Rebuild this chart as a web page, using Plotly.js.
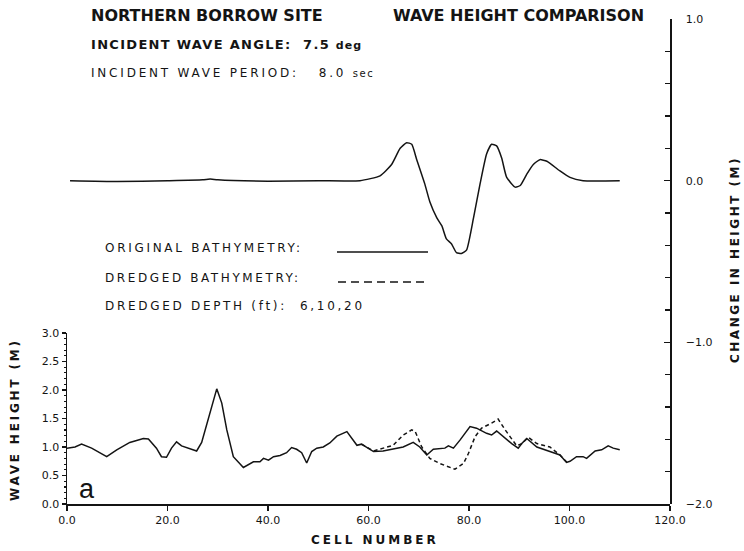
<!DOCTYPE html>
<html>
<head>
<meta charset="utf-8">
<script src="https://cdn.plot.ly/plotly-3.0.1.min.js"></script>
<style>html,body{margin:0;padding:0;background:#fff;}#chart{width:744px;height:551px;}</style>
</head>
<body>
<div id="chart"></div>
<script>
// ---- data ----
const xTickVals = [0, 20, 40, 60, 80, 100, 120];
const xTickText = ['0.0', '20.0', '40.0', '60.0', '80.0', '100.0', '120.0'];

// Wave height, original bathymetry (solid)
const cellsOriginal = [0, 1.6, 2.9, 4.9, 7.9, 9.9, 12.5, 13.9, 15.2, 16.2, 17.8, 18.8, 19.8, 20.8, 21.8, 22.8, 24.1, 25.8, 26.8, 28.1, 29.8, 30.8, 31.8, 33.1, 35.1, 37.1, 38.4, 39.1, 40.1, 41.1, 42.4, 43.7, 44.7, 45.7, 46.7, 47.7, 48.7, 49.7, 51.0, 52.3, 53.7, 55.7, 57.7, 58.6, 61.0, 62.9, 65.6, 66.9, 68.9, 70.2, 71.6, 72.9, 75.2, 75.9, 76.9, 78.2, 80.2, 81.5, 83.5, 84.5, 85.5, 86.8, 88.5, 89.8, 90.5, 91.5, 93.5, 96.1, 98.1, 99.4, 100.1, 101.4, 102.7, 103.4, 105.1, 106.4, 107.7, 108.7, 110];
const heightOriginal = [0.98, 1.0, 1.05, 0.98, 0.83, 0.95, 1.08, 1.12, 1.15, 1.14, 0.98, 0.83, 0.82, 0.98, 1.09, 1.02, 0.98, 0.93, 1.08, 1.47, 2.02, 1.77, 1.30, 0.83, 0.64, 0.74, 0.74, 0.80, 0.77, 0.83, 0.85, 0.90, 0.99, 0.96, 0.90, 0.72, 0.92, 0.98, 1.0, 1.07, 1.19, 1.27, 1.03, 1.05, 0.92, 0.93, 0.98, 1.0, 1.08, 1.0, 0.86, 0.96, 0.98, 1.02, 0.98, 1.12, 1.36, 1.33, 1.24, 1.21, 1.28, 1.18, 1.06, 0.98, 1.06, 1.15, 1.0, 0.92, 0.86, 0.73, 0.75, 0.83, 0.83, 0.80, 0.93, 0.95, 1.02, 0.98, 0.95];

// Wave height, dredged bathymetry (dashed, where it departs from the original)
const cellsDredged = [58.6, 61.0, 64.9, 66.9, 68.6, 69.3, 70.6, 72.2, 74.2, 75.9, 77.2, 78.9, 79.9, 81.2, 82.5, 84.5, 85.8, 87.2, 88.5, 89.5, 90.5, 91.8, 93.5, 96.1, 98.1, 99.4, 100.1];
const heightDredged = [1.05, 0.93, 1.03, 1.21, 1.30, 1.27, 1.0, 0.80, 0.71, 0.65, 0.61, 0.71, 0.89, 1.18, 1.33, 1.42, 1.49, 1.30, 1.15, 1.02, 1.06, 1.17, 1.06, 1.0, 0.86, 0.74, 0.75];

// Change in height (right axis)
const cellsChange = [0.6, 10, 20, 27, 28.5, 30, 40, 50, 58.3, 62.3, 64.6, 66.3, 67.6, 68.6, 69.6, 71.2, 72.2, 73.6, 74.6, 75.5, 76.5, 77.5, 78.5, 79.5, 80.9, 82.2, 83.5, 84.5, 85.5, 86.5, 87.5, 89.2, 90.2, 91.5, 92.8, 94.1, 95.5, 98.1, 100.1, 102.7, 110];
const heightChange = [0, -0.005, 0, 0.005, 0.01, 0.005, -0.003, 0, 0, 0.03, 0.10, 0.20, 0.235, 0.225, 0.13, -0.02, -0.13, -0.23, -0.28, -0.36, -0.39, -0.445, -0.45, -0.43, -0.23, -0.02, 0.165, 0.225, 0.215, 0.14, 0.02, -0.04, -0.03, 0.04, 0.10, 0.13, 0.12, 0.06, 0.02, 0, 0];

// ---- layout helpers (pixel -> paper) ----
const W = 744, H = 551, L = 67, R = 74, T = 19, B = 47;
const PW = W - L - R, PH = H - T - B;
const px = x => (x - L) / PW;
const py = y => (H - B - y) / PH;

const FONT = 'DejaVu Sans, Arial, sans-serif';
const ink = '#141414';

const traces = [
  { x: cellsDredged, y: heightDredged, xaxis: 'x', yaxis: 'y', mode: 'lines',
    line: { color: ink, width: 1.5, dash: '4px,3px' }, hoverinfo: 'skip' },
  { x: cellsOriginal, y: heightOriginal, xaxis: 'x', yaxis: 'y', mode: 'lines',
    line: { color: ink, width: 1.5 }, hoverinfo: 'skip' },
  { x: cellsChange, y: heightChange, xaxis: 'x', yaxis: 'y2', mode: 'lines',
    line: { color: ink, width: 1.5, shape: 'spline', smoothing: 0.5 }, hoverinfo: 'skip' }
];

const sp = (t, ls) => '<span style="letter-spacing:' + ls + 'px">' + t + '</span>';

function ann(text, x, y, size, opts) {
  return Object.assign({ text: text, xref: 'paper', yref: 'paper', x: px(x), y: py(y),
    xanchor: 'left', yanchor: 'middle', showarrow: false,
    font: { family: FONT, size: size, color: ink } }, opts || {});
}

const annotations = [
  ann('<b>NORTHERN BORROW SITE</b>', 89, 15, 16),
  ann('<b>WAVE HEIGHT COMPARISON</b>', 391, 15, 16),
  ann('<b>' + sp('INCIDENT WAVE ANGLE:  7.5 ', 1.3) + '<span style="font-size:11px;letter-spacing:1px">deg</span></b>', 89, 44, 13),
  ann(sp('INCIDENT WAVE PERIOD:   8.0 ', 2.8) + '<span style="font-size:10px;letter-spacing:1.5px">sec</span>', 89, 73, 12),
  ann(sp('ORIGINAL BATHYMETRY:', 2.7), 103, 248, 12),
  ann(sp('DREDGED BATHYMETRY:', 2.6), 103, 278, 12),
  ann(sp('DREDGED DEPTH (ft):  6,10,20', 2.7), 103, 306, 12),
  ann('a', 77, 489, 27, { font: { family: 'Liberation Sans, Arial, sans-serif', size: 27, color: ink } }),
  ann('<b>' + sp('CELL NUMBER', 3.0) + '</b>', 375, 540, 12, { xanchor: 'center' }),
  ann('<b>' + sp('WAVE HEIGHT (M)', 2.8) + '</b>', 15, 420, 12, { xanchor: 'center', textangle: -90 }),
  ann('<b>' + sp('CHANGE IN HEIGHT (M)', 2.5) + '</b>', 735, 260, 12, { xanchor: 'center', textangle: -90 })
];

const shapes = [
  { type: 'line', xref: 'paper', yref: 'paper', x0: px(337), x1: px(428), y0: py(252), y1: py(252),
    line: { color: ink, width: 1.5 } },
  { type: 'line', xref: 'paper', yref: 'paper', x0: px(338), x1: px(428), y0: py(282), y1: py(282),
    line: { color: ink, width: 1.5, dash: '8px,5px' } }
];

const tickFont = { family: FONT, size: 11, color: ink };

const layout = {
  width: W, height: H,
  margin: { l: L, r: R, t: T, b: B, pad: 0 },
  paper_bgcolor: '#ffffff', plot_bgcolor: 'rgba(0,0,0,0)',
  showlegend: false,
  xaxis: {
    domain: [0, 1], range: [0, 120], anchor: 'y',
    showline: true, linecolor: ink, linewidth: 1.5,
    ticks: 'outside', ticklen: 5, tickcolor: ink, tickwidth: 1.2,
    tickvals: xTickVals, ticktext: xTickText, tickfont: tickFont,
    showgrid: false, zeroline: false
  },
  yaxis: {
    domain: [0, py(333)], range: [0, 3], anchor: 'x',
    showline: true, linecolor: ink, linewidth: 1.5,
    ticks: 'outside', ticklen: 4, tickcolor: ink, tickwidth: 1.2,
    dtick: 0.5, tick0: 0, tickformat: '.1f', tickfont: tickFont,
    minor: { dtick: 0.1, ticks: 'outside', ticklen: 2, tickcolor: ink },
    showgrid: false, zeroline: false
  },
  yaxis2: {
    domain: [0, 1], range: [-2, 1], anchor: 'x', side: 'right',
    showline: true, linecolor: ink, linewidth: 1.5,
    ticks: 'inside', ticklen: 6, tickcolor: ink, tickwidth: 1.2,
    dtick: 1, tick0: 0, tickformat: '.1f', tickfont: tickFont,
    ticklabelstandoff: 12,
    minor: { dtick: 0.2, ticks: 'inside', ticklen: 5, tickcolor: ink },
    showgrid: false, zeroline: false
  },
  annotations: annotations,
  shapes: shapes
};

Plotly.newPlot('chart', traces, layout, { staticPlot: true, displayModeBar: false });
</script>
</body>
</html>
